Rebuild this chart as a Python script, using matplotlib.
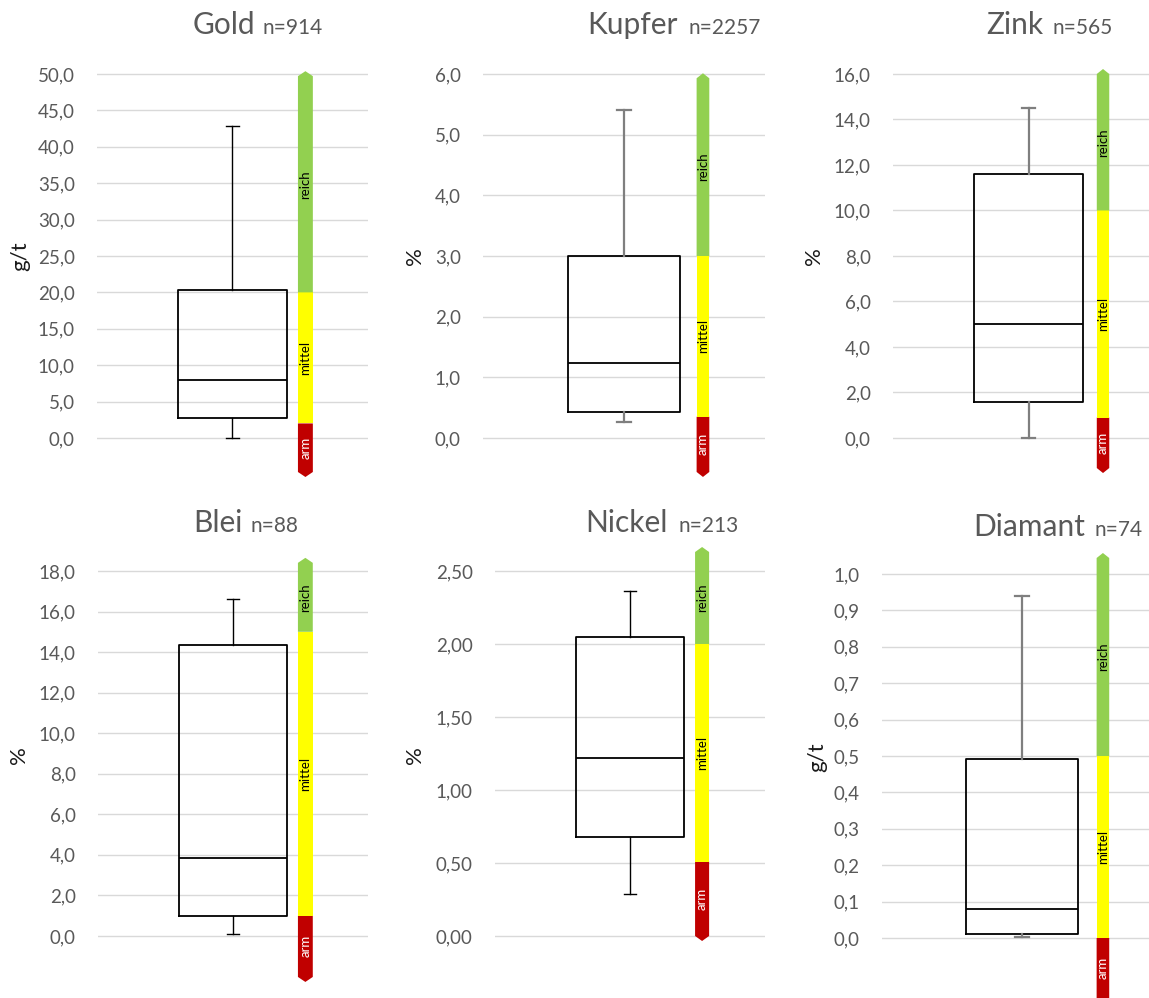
import numpy as np
import matplotlib.pyplot as plt
from matplotlib.ticker import FuncFormatter

plt.rcParams['font.family'] = ['Lato', 'DejaVu Sans']

# Erzgehalte je Rohstoff (Boxplot-Kennwerte)
elements = ['Gold', 'Kupfer', 'Zink', 'Blei', 'Nickel', 'Diamant']
counts = [914, 2257, 565, 88, 213, 74]
units = ['g/t', '%', '%', '%', '%', 'g/t']
whisker_lo = [0.0, 0.26, 0.0, 0.1, 0.29, 0.003]
q1 = [2.75, 0.43, 1.58, 0.97, 0.68, 0.011]
median = [7.9, 1.24, 5.0, 3.87, 1.22, 0.08]
q3 = [20.3, 3.0, 11.6, 14.35, 2.05, 0.492]
whisker_hi = [42.8, 5.4, 14.5, 16.6, 2.36, 0.94]

# Klassengrenzen arm / mittel / reich und Ende des Farbbalkens
lim_mittel = [2.0, 0.35, 0.9, 1.0, 0.51, 0.0]
lim_reich = [20.0, 3.0, 10.0, 15.0, 2.0, 0.5]
band_lo = [-4.67, -0.56, -1.32, -2.02, 0.0, -0.165]
band_hi = [49.7, 5.93, 16.0, 18.4, 2.63, 1.044]
class_names = ['arm', 'mittel', 'reich']

# y-Achsen
ytick_max = [50, 6, 16, 18, 2.5, 1.0]
ytick_step = [5, 1, 2, 2, 0.5, 0.1]
decimals = [1, 1, 1, 1, 2, 1]

# --- layout (pixels of the 1149x998 picture) ---
W, H = 1149, 998
ax_x = [(97, 368), (483, 765), (893, 1164), (98, 368), (495, 765), (882, 1162)]
ax_y = [(60, 485)] * 3 + [(545, 998)] * 3
ylims = [(-6.456, 51.92), (-0.775, 6.231), (-2.066, 16.615),
         (-3.058, 19.28), (-0.4247, 2.678), (-0.1648, 1.0797)]
band_x = [0.769, 0.780, 0.775, 0.768, 0.767, 0.789]
band_w = [0.055, 0.045, 0.046, 0.055, 0.052, 0.045]
whisk_col = ['black', '#7f7f7f', '#7f7f7f', 'black', 'black', '#7f7f7f']
whisk_lw = [1.0, 1.6, 1.6, 1.0, 1.0, 1.6]
title_split = [(255, 263), (678, 688), (1043, 1052), (243, 251), (668, 679), (1085, 1095)]
title_base = [34, 34, 34, 532, 532, 536]
ylab_pos = [(20, 256), (415, 256), (814, 256), (19, 755), (415, 755), (817, 757)]

band_colors = ['#C00000', '#FFFF00', '#92D050']
label_colors = ['white', 'black', 'black']
tip_px = 5

fig = plt.figure(figsize=(W / 100, H / 100), dpi=100)

for i, name in enumerate(elements):
    x0, x1 = ax_x[i]
    y0, y1 = ax_y[i]
    ax = fig.add_axes([x0 / W, 1 - y1 / H, (x1 - x0) / W, (y1 - y0) / H])
    ax.set_xlim(0, 1)
    ax.set_ylim(*ylims[i])
    for s in ax.spines.values():
        s.set_visible(False)
    ax.set_xticks([])
    ax.set_yticks(np.arange(0, ytick_max[i] + ytick_step[i] / 2, ytick_step[i]))
    d = decimals[i]
    ax.yaxis.set_major_formatter(FuncFormatter(lambda v, p, d=d: f"{v:.{d}f}".replace('.', ',')))
    ax.tick_params(axis='y', length=0, pad=16, labelsize=13.5, labelcolor='#595959')
    ax.grid(axis='y', color='#d9d9d9', lw=1.0)
    ax.set_axisbelow(True)

    stats = [dict(med=median[i], q1=q1[i], q3=q3[i],
                  whislo=whisker_lo[i], whishi=whisker_hi[i])]
    ax.bxp(stats, positions=[0.5], widths=[0.4], capwidths=[0.048],
           showfliers=False, manage_ticks=False,
           boxprops=dict(color='black', lw=1.3),
           medianprops=dict(color='black', lw=1.3),
           whiskerprops=dict(color=whisk_col[i], lw=whisk_lw[i]),
           capprops=dict(color=whisk_col[i], lw=whisk_lw[i]))

    # Farbbalken arm / mittel / reich mit Pfeilspitzen
    span = ylims[i][1] - ylims[i][0]
    tip = tip_px * span / ax.bbox.height
    xl = band_x[i] - band_w[i] / 2
    xr = band_x[i] + band_w[i] / 2
    xc = band_x[i]
    edges = [band_lo[i], lim_mittel[i], lim_reich[i], band_hi[i]]
    for k in range(3):
        lo, hi = edges[k], edges[k + 1]
        if k == 0:
            xs = [xl, xc, xr, xr, xl]
            ys = [lo, lo - tip, lo, hi, hi]
        elif k == 2:
            xs = [xl, xr, xr, xc, xl]
            ys = [lo, lo, hi, hi + tip, hi]
        else:
            xs = [xl, xr, xr, xl]
            ys = [lo, lo, hi, hi]
        ax.fill(xs, ys, color=band_colors[k], lw=0, zorder=3)
        ax.text(xc, (lo + hi) / 2, class_names[k], rotation=90, ha='center',
                va='center', fontsize=9.5, color=label_colors[k], zorder=4)

    # Titel
    xa, xb = title_split[i]
    fig.text(xa / W, 1 - title_base[i] / H, name, ha='right', va='baseline',
             fontsize=21.5, color='#595959')
    fig.text(xb / W, 1 - title_base[i] / H, f"n={counts[i]}", ha='left',
             va='baseline', fontsize=15, color='#595959')
    lx, ly = ylab_pos[i]
    fig.text(lx / W, 1 - ly / H, units[i], rotation=90, ha='center', va='center',
             fontsize=16, color='#1a1a1a')

fig.savefig('out.png', dpi=100, facecolor='white')
